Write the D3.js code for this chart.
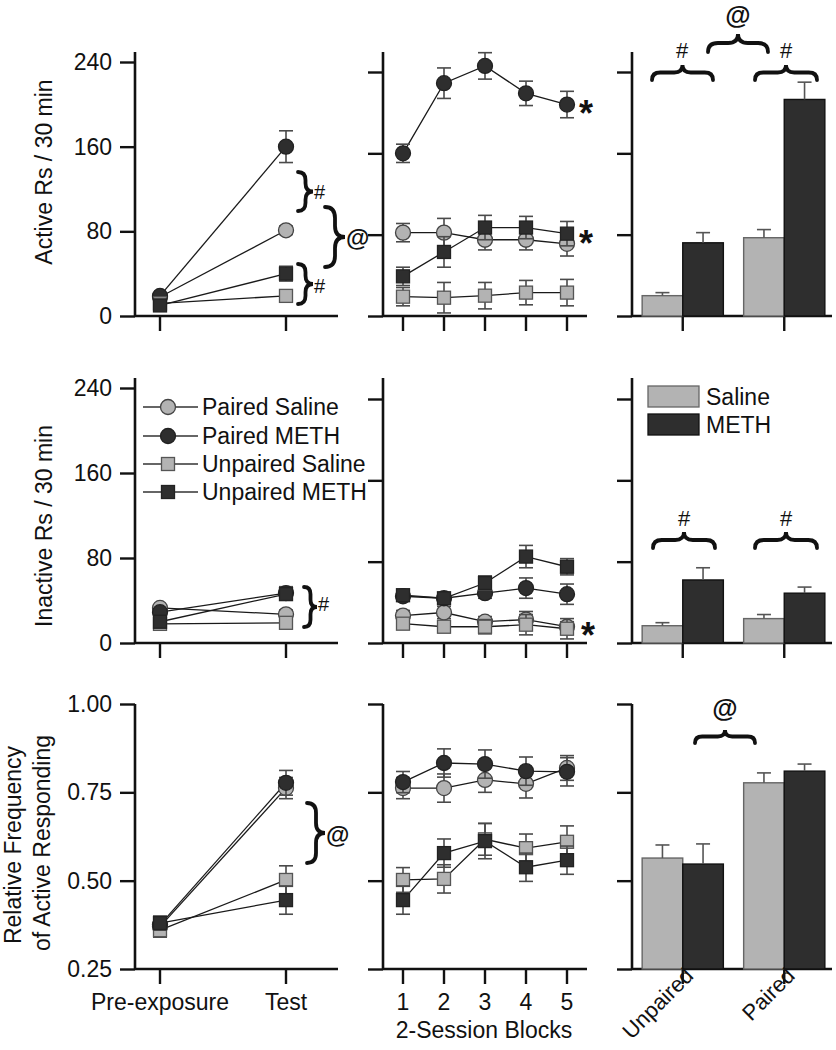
<!DOCTYPE html>
<html><head><meta charset="utf-8">
<script src="https://cdn.jsdelivr.net/npm/d3@7"></script>
<style>body{margin:0;background:#fff} svg{display:block;font-family:"Liberation Sans",Arial,Helvetica,sans-serif}</style>
</head><body><svg id="c" width="836" height="1050"></svg>
<script>
// ---------------- DATA ----------------
const groups = ["Paired Saline", "Paired METH", "Unpaired Saline", "Unpaired METH"];
const phases = ["Pre-exposure", "Test"];
const blocks = [1, 2, 3, 4, 5];
const barGroups = ["Unpaired", "Paired"];
const drugs = ["Saline", "METH"];
const countTicks = [0, 80, 160, 240];
const freqTicks = [0.25, 0.50, 0.75, 1.00];

// Active responses (rows follow `groups`)
const activePhaseMean = [[18, 81], [19, 160], [12, 19], [10, 40]];
const activePhaseErr  = [[3, 4], [3, 15], [3, 4], [3, 7]];
const activeBlockMean = [
  [82, 82, 75, 75, 71],
  [160, 229, 246, 219, 208],
  [19, 18, 20, 23, 23],
  [39, 63, 87, 87, 81]];
const activeBlockErr = [
  [9, 14, 10, 10, 12],
  [9, 15, 13, 12, 13],
  [9, 15, 13, 12, 13],
  [9, 15, 12, 11, 12]];
// bars: rows follow `barGroups`, columns follow `drugs`
const activeBarMean = [[20, 72], [77, 213]];
const activeBarErr  = [[3, 10], [8, 17]];

// Inactive responses
const inactivePhaseMean = [[33, 27], [29, 47], [18, 19], [20, 46]];
const inactivePhaseErr  = [[3, 4], [3, 6], [3, 4], [3, 5]];
const inactiveBlockMean = [
  [27, 30, 21, 23, 16],
  [46, 44, 49, 54, 48],
  [19, 16, 16, 18, 14],
  [47, 44, 59, 85, 75]];
const inactiveBlockErr = [
  [5, 6, 5, 8, 5],
  [4, 4, 5, 10, 10],
  [5, 5, 7, 10, 10],
  [4, 4, 7, 11, 8]];
const inactiveBarMean = [[17, 62], [24, 49]];
const inactiveBarErr  = [[3, 12], [4, 6]];

// Relative frequency of active responding
const relPhaseMean = [[0.37, 0.762], [0.375, 0.777], [0.36, 0.502], [0.38, 0.445]];
const relPhaseErr  = [[0.02, 0.03], [0.02, 0.035], [0.02, 0.04], [0.02, 0.04]];
const relBlockMean = [
  [0.762, 0.762, 0.785, 0.774, 0.819],
  [0.779, 0.833, 0.830, 0.810, 0.808],
  [0.502, 0.505, 0.617, 0.592, 0.610],
  [0.445, 0.578, 0.612, 0.538, 0.558]];
const relBlockErr = [
  [0.03, 0.04, 0.035, 0.04, 0.035],
  [0.03, 0.04, 0.04, 0.04, 0.04],
  [0.035, 0.04, 0.045, 0.04, 0.045],
  [0.04, 0.04, 0.05, 0.04, 0.04]];
const relBarMean = [[0.564, 0.547], [0.777, 0.810]];
const relBarErr  = [[0.037, 0.057], [0.028, 0.02]];

// ---------------- STYLE ----------------
const LIGHT = "#b3b3b3", DARK = "#2e2e2e";
const seriesShape = ["circle", "circle", "square", "square"];
const seriesFill = [LIGHT, DARK, LIGHT, DARK];
const seriesStroke = ["#444", "#222", "#555", "#222"];
const drugFill = {Saline: LIGHT, METH: DARK};
const drugStroke = {Saline: "#666", METH: "#111"};
const FS = 23;

const svg = d3.select("#c");

// ---------------- SCALES ----------------
const colL = {ax: 135, end: 338};
const colM = {ax: 383, end: 587};
const colR = {ax: 632, end: 832};
const rowsGeo = [
  {top: 52, base: 316},
  {top: 378, base: 643},
  {top: 704, base: 969}];

const xPhase = d3.scalePoint().domain(phases).range([160, 286]);
const xBlock = d3.scaleLinear().domain([1, 5]).range([403, 567]);
const xBar = d3.scaleBand().domain(barGroups).range([632, 835]).paddingInner(0.2).paddingOuter(0.1);
const xDrug = d3.scaleBand().domain(drugs).range([0, xBar.bandwidth()]);

const yActL = d3.scaleLinear().domain([0, 240]).range([316, 62]);
const yActM = d3.scaleLinear().domain([0, 240]).range([316, 72]);
const yInL = d3.scaleLinear().domain([0, 240]).range([643, 388]);
const yInM = d3.scaleLinear().domain([0, 240]).range([643, 399]);
const yRel = d3.scaleLinear().domain([0.25, 1]).range([969, 704]);

// ---------------- HELPERS ----------------
function yAxis(x, y, ticks, top, showLabels, fmt) {
  svg.append("line").attr("x1", x).attr("x2", x).attr("y1", top).attr("y2", y.range()[0])
    .attr("stroke", "#111").attr("stroke-width", 2.6);
  const ax = d3.axisLeft(y).tickValues(ticks).tickSize(15).tickSizeOuter(0).tickPadding(8)
    .tickFormat(showLabels ? fmt : () => "");
  const g = svg.append("g").attr("transform", `translate(${x},0)`).call(ax);
  g.select(".domain").remove();
  g.attr("font-size", FS).attr("font-family", null);
  g.selectAll(".tick line").attr("stroke", "#111").attr("stroke-width", 2.4);
  g.selectAll(".tick text").attr("fill", "#111");
}
function xAxisLine(x1, x2, y, tickXs) {
  svg.append("line").attr("x1", x1).attr("x2", x2).attr("y1", y).attr("y2", y)
    .attr("stroke", "#111").attr("stroke-width", 2.6);
  svg.append("g").selectAll("line").data(tickXs).join("line")
    .attr("x1", d => d).attr("x2", d => d).attr("y1", y).attr("y2", y + 15)
    .attr("stroke", "#111").attr("stroke-width", 2.4);
}
function marker(g, shape, cx, cy, fill, stroke) {
  if (shape === "circle") {
    g.append("circle").attr("cx", cx).attr("cy", cy).attr("r", 7.5)
      .attr("fill", fill).attr("stroke", stroke).attr("stroke-width", 1.3);
  } else {
    g.append("rect").attr("x", cx - 6.5).attr("y", cy - 6.5).attr("width", 13).attr("height", 13)
      .attr("fill", fill).attr("stroke", stroke).attr("stroke-width", 1.3);
  }
}
function linePanel(xs, xf, y, means, errs) {
  const g = svg.append("g");
  groups.forEach((_, i) => {
    const pts = means[i].map((v, j) => [xf(xs[j]), y(v)]);
    g.append("path").attr("d", d3.line()(pts)).attr("fill", "none")
      .attr("stroke", "#1a1a1a").attr("stroke-width", 1.3);
  });
  groups.forEach((_, i) => {
    means[i].forEach((v, j) => {
      const cx = xf(xs[j]), e = errs[i][j];
      const eg = g.append("g").attr("stroke", "#4a4a4a").attr("stroke-width", 1.6);
      eg.append("line").attr("x1", cx).attr("x2", cx).attr("y1", y(v - e)).attr("y2", y(v + e));
      [v - e, v + e].forEach(t => eg.append("line").attr("x1", cx - 7).attr("x2", cx + 7).attr("y1", y(t)).attr("y2", y(t)));
      marker(g, seriesShape[i], cx, y(v), seriesFill[i], seriesStroke[i]);
    });
  });
}
function barPanel(y, means, errs) {
  const g = svg.append("g");
  barGroups.forEach((grp, i) => drugs.forEach((d, j) => {
    const x0 = xBar(grp) + xDrug(d), w = xDrug.bandwidth(), v = means[i][j], e = errs[i][j];
    g.append("rect").attr("x", x0).attr("y", y(v)).attr("width", w).attr("height", y.range()[0] - y(v))
      .attr("fill", drugFill[d]).attr("stroke", drugStroke[d]).attr("stroke-width", 1.4);
    const cx = x0 + w / 2;
    g.append("line").attr("x1", cx).attr("x2", cx).attr("y1", y(v)).attr("y2", y(v + e))
      .attr("stroke", "#555").attr("stroke-width", 1.6);
    g.append("line").attr("x1", cx - 7).attr("x2", cx + 7).attr("y1", y(v + e)).attr("y2", y(v + e))
      .attr("stroke", "#555").attr("stroke-width", 1.6);
  }));
}
function braceV(x, y1, y2, w) {
  const ym = (y1 + y2) / 2, h = w / 2, r = Math.min(w * 0.55, (y2 - y1) / 4);
  svg.append("path").attr("d",
    `M${x},${y1} Q${x + h},${y1} ${x + h},${y1 + r} L${x + h},${ym - r} Q${x + h},${ym} ${x + w},${ym} ` +
    `Q${x + h},${ym} ${x + h},${ym + r} L${x + h},${y2 - r} Q${x + h},${y2} ${x},${y2}`)
    .attr("fill", "none").attr("stroke", "#111").attr("stroke-width", 3.8).attr("stroke-linecap", "round");
}
function braceH(x1, x2, y, h) {
  const xm = (x1 + x2) / 2, v = h / 2, r = Math.min(h * 0.55, (x2 - x1) / 4);
  svg.append("path").attr("d",
    `M${x1},${y} Q${x1},${y - v} ${x1 + r},${y - v} L${xm - r},${y - v} Q${xm},${y - v} ${xm},${y - h} ` +
    `Q${xm},${y - v} ${xm + r},${y - v} L${x2 - r},${y - v} Q${x2},${y - v} ${x2},${y}`)
    .attr("fill", "none").attr("stroke", "#111").attr("stroke-width", 3.8).attr("stroke-linecap", "round");
}
function note(txt, x, y, size, bold, anchor) {
  svg.append("text").attr("x", x).attr("y", y).attr("font-size", size)
    .attr("font-weight", bold ? "bold" : "normal").attr("text-anchor", anchor || "middle")
    .attr("dominant-baseline", "central").attr("fill", "#111").text(txt);
}
function star(x, y) {
  svg.append("text").attr("x", x).attr("y", y + 21).attr("font-size", 36).attr("font-weight", "bold")
    .attr("text-anchor", "middle").attr("fill", "#111").text("*");
}

// ---------------- AXES ----------------
const fmtInt = d3.format("d"), fmt2 = d3.format(".2f");
const barTickXs = barGroups.map(g => xBar(g) + xBar.bandwidth() / 2);
// row 0
yAxis(colL.ax, yActL, countTicks, rowsGeo[0].top, true, fmtInt);
yAxis(colM.ax, yActM, countTicks, rowsGeo[0].top, false);
yAxis(colR.ax, yActM, countTicks, rowsGeo[0].top, false);
xAxisLine(colL.ax, colL.end, 316, phases.map(xPhase));
xAxisLine(colM.ax, colM.end, 316, blocks.map(xBlock));
xAxisLine(colR.ax, colR.end, 316, barTickXs);
// row 1
yAxis(colL.ax, yInL, countTicks, rowsGeo[1].top, true, fmtInt);
yAxis(colM.ax, yInM, countTicks, rowsGeo[1].top, false);
yAxis(colR.ax, yInM, countTicks, rowsGeo[1].top, false);
xAxisLine(colL.ax, colL.end, 643, phases.map(xPhase));
xAxisLine(colM.ax, colM.end, 643, blocks.map(xBlock));
xAxisLine(colR.ax, colR.end, 643, barTickXs);
// row 2
yAxis(colL.ax, yRel, freqTicks, rowsGeo[2].top, true, fmt2);
yAxis(colM.ax, yRel, freqTicks, rowsGeo[2].top, false);
yAxis(colR.ax, yRel, freqTicks, rowsGeo[2].top, false);
xAxisLine(colL.ax, colL.end, 969, phases.map(xPhase));
xAxisLine(colM.ax, colM.end, 969, blocks.map(xBlock));
xAxisLine(colR.ax, colR.end, 969, barTickXs);

// ---------------- MARKS ----------------
linePanel(phases, xPhase, yActL, activePhaseMean, activePhaseErr);
linePanel(blocks, xBlock, yActM, activeBlockMean, activeBlockErr);
barPanel(yActM, activeBarMean, activeBarErr);
linePanel(phases, xPhase, yInL, inactivePhaseMean, inactivePhaseErr);
linePanel(blocks, xBlock, yInM, inactiveBlockMean, inactiveBlockErr);
barPanel(yInM, inactiveBarMean, inactiveBarErr);
linePanel(phases, xPhase, yRel, relPhaseMean, relPhaseErr);
linePanel(blocks, xBlock, yRel, relBlockMean, relBlockErr);
barPanel(yRel, relBarMean, relBarErr);

// ---------------- AXIS TITLES / LABELS ----------------
function vlabel(txt, x, y) {
  svg.append("text").attr("transform", `translate(${x},${y}) rotate(-90)`).attr("text-anchor", "middle")
    .attr("font-size", FS).attr("fill", "#111").text(txt);
}
vlabel("Active Rs / 30 min", 52, 172);
vlabel("Inactive Rs / 30 min", 52, 526);
vlabel("Relative Frequency", 21, 845);
vlabel("of Active Responding", 50, 843);

svg.append("g").selectAll("text").data(phases).join("text")
  .attr("x", d => xPhase(d)).attr("y", 1010).attr("text-anchor", "middle").attr("font-size", FS)
  .attr("fill", "#111").text(d => d);
svg.append("g").selectAll("text").data(blocks).join("text")
  .attr("x", d => xBlock(d)).attr("y", 1010).attr("text-anchor", "middle").attr("font-size", FS)
  .attr("fill", "#111").text(d => d);
svg.append("text").attr("x", 484).attr("y", 1038).attr("text-anchor", "middle").attr("font-size", FS)
  .attr("fill", "#111").text("2-Session Blocks");
svg.append("g").selectAll("text").data(barGroups).join("text")
  .attr("transform", (d, i) => `translate(${barTickXs[i] + 12},${977}) rotate(-45)`)
  .attr("text-anchor", "end").attr("font-size", 22).attr("fill", "#111").text(d => d);

// ---------------- LEGENDS ----------------
const legY = [407, 436, 464, 492];
groups.forEach((name, i) => {
  svg.append("line").attr("x1", 143).attr("x2", 198).attr("y1", legY[i]).attr("y2", legY[i])
    .attr("stroke", "#333").attr("stroke-width", 1.3);
  marker(svg, seriesShape[i], 168, legY[i], seriesFill[i], seriesStroke[i]);
  svg.append("text").attr("x", 202).attr("y", legY[i]).attr("dy", "0.35em").attr("font-size", FS)
    .attr("fill", "#111").text(name);
});
const legBarY = [386, 414];
drugs.forEach((d, i) => {
  svg.append("rect").attr("x", 648).attr("y", legBarY[i]).attr("width", 51).attr("height", 21)
    .attr("fill", drugFill[d]).attr("stroke", drugStroke[d]).attr("stroke-width", 1.3);
  svg.append("text").attr("x", 706).attr("y", legBarY[i] + 10.5).attr("dy", "0.35em").attr("font-size", FS)
    .attr("fill", "#111").text(d);
});

// ---------------- ANNOTATIONS ----------------
braceV(298, 172, 211, 15); note("#", 314, 192, 20, false, "start");
braceV(325, 207, 267, 20); note("@", 346, 237, 24, true, "start");
braceV(298, 264, 304, 15); note("#", 314, 286, 20, false, "start");
braceV(304, 587, 627, 13); note("#", 318, 604, 20, false, "start");
braceV(307, 803, 863, 18); note("@", 326, 834, 24, true, "start");

braceH(652, 713, 80, 15); note("#", 682, 50, 22, false);
braceH(755, 817, 80, 15); note("#", 786, 50, 22, false);
braceH(708, 768, 52, 18); note("@", 738, 15, 26, true);
braceH(653, 715, 548, 16); note("#", 684, 518, 22, false);
braceH(755, 817, 548, 16); note("#", 786, 518, 22, false);
braceH(695, 755, 743, 13); note("@", 725, 708, 26, true);

star(586, 105);
star(586, 235);
star(588, 627);
</script></body></html>
